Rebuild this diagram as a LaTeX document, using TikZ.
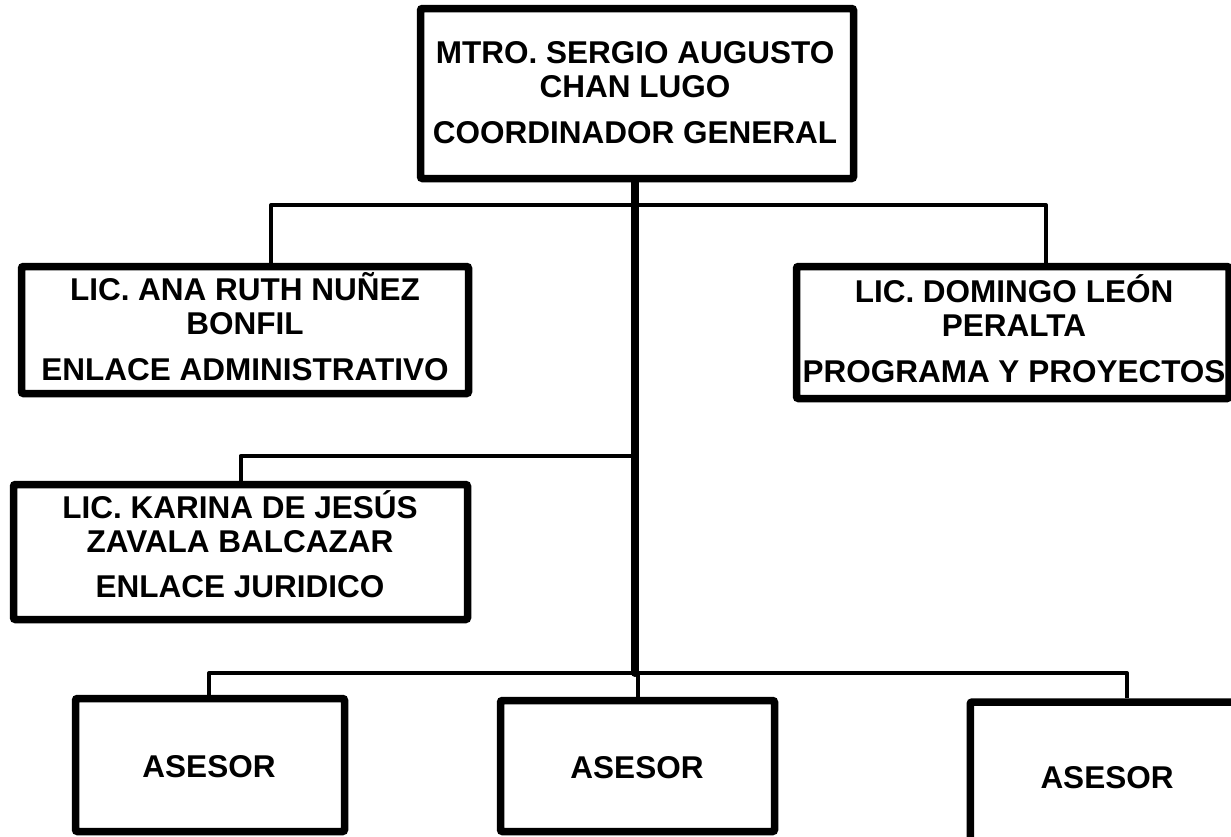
\documentclass[tikz,border=0pt]{standalone}
\usepackage{fontspec}
\setmainfont{Liberation Sans}
\begin{document}
\begin{tikzpicture}[x=1pt,y=-1pt,
  orgbox/.style={draw=black, line width=7.5pt, rounded corners=2pt, inner sep=0pt, rectangle},
  txt/.style={font=\fontsize{31.5}{34}\selectfont\bfseries, align=center, inner sep=0pt, anchor=base},
  trunk/.style={line width=8pt, line cap=round},
  branch/.style={line width=4pt, line join=round}]
\useasboundingbox (0,0) rectangle (1231,836);
\fill[white] (0,0) rectangle (1231,836);
% boxes
\node[orgbox, minimum width=433pt, minimum height=170pt] (top) at (637,93.5) {};
\node[orgbox, minimum width=447pt, minimum height=127pt] (ana) at (245,330) {};
\node[orgbox, minimum width=432.5pt, minimum height=132pt] (dom) at (1012.75,332.5) {};
\node[orgbox, minimum width=454pt, minimum height=135pt] (kar) at (240.5,552) {};
\node[orgbox, minimum width=269pt, minimum height=133pt] (as1) at (210,765) {};
\node[orgbox, minimum width=274pt, minimum height=131pt] (as2) at (637.5,766) {};
\node[orgbox, minimum width=273.5pt, minimum height=150pt] (as3) at (1107,777) {};
% texts (base anchor = baseline of last line)
\node[txt] (top-t) at (635,143) {MTRO. SERGIO AUGUSTO\\CHAN LUGO\\[12pt]COORDINADOR GENERAL};
\node[txt] (ana-t) at (245,380) {LIC. ANA RUTH NUÑEZ\\BONFIL\\[12pt]ENLACE ADMINISTRATIVO};
\node[txt] (dom-t) at (1014,382) {LIC. DOMINGO LEÓN\\PERALTA\\[12pt]PROGRAMA Y PROYECTOS};
\node[txt] (kar-t) at (240,597) {LIC. KARINA DE JESÚS\\ZAVALA BALCAZAR\\[11pt]ENLACE JURIDICO};
\node[txt] (as1-t) at (209,777) {ASESOR};
\node[txt] (as2-t) at (637,778) {ASESOR};
\node[txt] (as3-t) at (1107,788) {ASESOR};
% junctions
\coordinate (j1) at (635,205);
\coordinate (j2) at (635,456);
\coordinate (j3) at (635,673);
% connectors
\draw[branch] ([xshift=26pt]ana.north) |- (j1) -| ([xshift=33.25pt]dom.north);
\draw[branch] (kar.north) |- (j2);
\draw[branch] ([xshift=-1pt]as1.north) |- (j3) -| ([xshift=20pt]as3.north);
\draw[branch] (as2.north) -- (as2.north |- j3);
\draw[trunk] (top.south -| j3) -- (j3);
\end{tikzpicture}
\end{document}
